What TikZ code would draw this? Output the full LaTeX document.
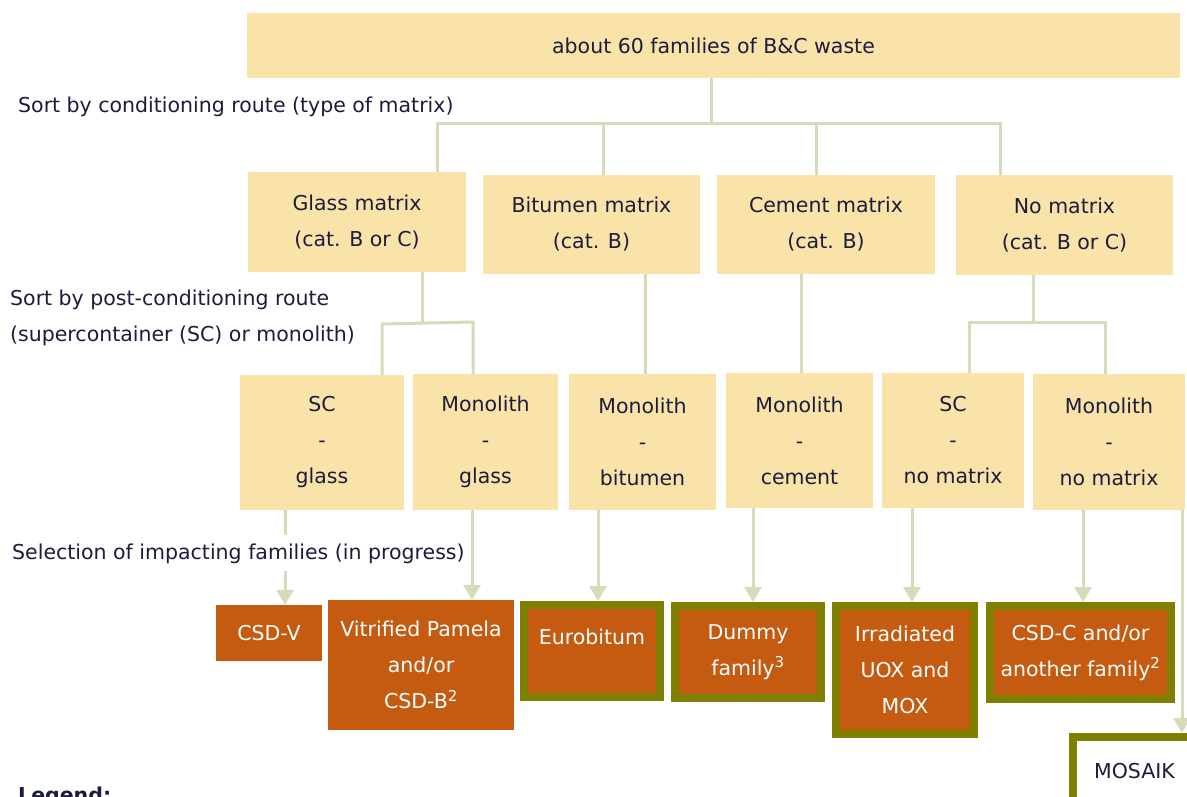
\documentclass[tikz,border=0pt]{standalone}
\usepackage{fontspec}
\setmainfont{DejaVu Sans}
\usetikzlibrary{arrows.meta}
\definecolor{boxyel}{RGB}{250,227,168}
\definecolor{orng}{RGB}{197,90,17}
\definecolor{oliv}{RGB}{128,128,0}
\definecolor{lin}{RGB}{212,220,186}
\definecolor{txt}{RGB}{28,28,60}
\tikzset{
  base/.style={inner sep=0pt, align=center, font=\fontsize{20.5}{36}\selectfont},
  ybox/.style={base, fill=boxyel, text=txt},
  obox/.style={base, fill=orng, text=white},
  fbox/.style={base, fill=orng, text=white, draw=oliv, line width=8pt},
  wbox/.style={base, fill=white, text=txt, draw=oliv, line width=8pt},
  conn/.style={draw=lin, line width=3pt},
  arr/.style={draw=lin, line width=3pt, -{Triangle[width=17pt,length=15pt]}, fill=lin},
  lab/.style={inner sep=0pt, text=txt, font=\fontsize{20.5}{36}\selectfont, anchor=base west},
}
\newcommand{\sups}[1]{\textsuperscript{\fontsize{15}{15}\selectfont #1}}
\begin{document}
\begin{tikzpicture}[x=1pt,y=-1pt]
\useasboundingbox (0,0) rectangle (1187,796);
\clip (0,0) rectangle (1187,796);
% level 1
\node[ybox, minimum width=933pt, minimum height=65pt] (top) at (713.5,45.5) {about 60 families of B\&C waste};
% level 2
\node[ybox, minimum width=218pt, minimum height=100pt] (glass) at (357,222) {Glass matrix\\(cat. B or C)};
\node[ybox, minimum width=217pt, minimum height=99pt] (bit) at (591.5,224.5) {Bitumen matrix\\(cat. B)};
\node[ybox, minimum width=218pt, minimum height=99pt] (cem) at (826,224.5) {Cement matrix\\(cat. B)};
\node[ybox, minimum width=217pt, minimum height=100pt] (nom) at (1064.5,225) {No matrix\\(cat. B or C)};
% level 3
\node[ybox, minimum width=164pt, minimum height=135pt] (scg) at (322,442.5) {SC\\-\\glass};
\node[ybox, minimum width=145pt, minimum height=136pt] (mg) at (485.5,442) {Monolith\\-\\glass};
\node[ybox, minimum width=147pt, minimum height=136pt] (mb) at (642.5,442) {Monolith\\-\\bitumen};
\node[ybox, minimum width=147pt, minimum height=135pt] (mc) at (799.5,440.5) {Monolith\\-\\cement};
\node[ybox, minimum width=142pt, minimum height=135pt] (scn) at (953,440.5) {SC\\-\\no matrix};
\node[ybox, minimum width=152pt, minimum height=136pt] (mn) at (1109,442) {Monolith\\-\\no matrix};
% level 4
\node[obox, minimum width=106pt, minimum height=56pt] (csdv) at (269,633) {CSD-V};
\node[obox, minimum width=186pt, minimum height=130pt] (vp) at (421,665) {Vitrified Pamela\\and/or\\CSD-B\sups{2}};
\node[fbox, minimum width=136pt, minimum height=92pt] (eu) at (592,651) {Eurobitum\\[-8pt]\mbox{}};
\node[fbox, minimum width=146pt, minimum height=92pt] (dum) at (748,652) {Dummy\\family\sups{3}};
\node[fbox, minimum width=138pt, minimum height=128pt] (irr) at (905,670) {Irradiated\\UOX and\\MOX};
\node[fbox, minimum width=181pt, minimum height=93pt] (csdc) at (1080.5,652.5) {CSD-C and/or\\another family\sups{2}};
\node[wbox, minimum width=123pt, minimum height=69pt] (mos) at (1134.5,771.5) {MOSAIK};
% level 1 -> 2
\coordinate (j0) at (711,123);
\coordinate (jg) at (437,123);
\coordinate (jb) at (603,123);
\coordinate (jc) at (816,123);
\coordinate (jn) at (1000,123);
\draw[conn] (j0 |- top.south) -- (j0);
\draw[conn, line cap=rect] (jg) -- (jn);
\draw[conn] (jg) -- (jg |- glass.north);
\draw[conn] (jb) -- (jb |- bit.north);
\draw[conn] (jc) -- (jc |- cem.north);
\draw[conn] (jn) -- (jn |- nom.north);
% level 2 -> 3
\coordinate (g0) at (422,323);
\coordinate (gl) at (382,324);
\coordinate (gr) at (473,322);
\draw[conn] (g0 |- glass.south) -- (g0);
\draw[conn, line join=miter] (gl |- scg.north) -- (gl) -- (gr) -- (gr |- mg.north);
\coordinate (bx) at (645,0);
\draw[conn] (bx |- bit.south) -- (bx |- mb.north);
\coordinate (cx) at (801,0);
\draw[conn] (cx |- cem.south) -- (cx |- mc.north);
\coordinate (n0) at (1033,322);
\coordinate (nl) at (969,322);
\coordinate (nr) at (1105,322);
\draw[conn] (n0 |- nom.south) -- (n0);
\draw[conn, line join=miter] (nl |- scn.north) -- (nl) -- (nr) -- (nr |- mn.north);
% level 3 -> 4
\coordinate (a1) at (285,0);
\coordinate (a2) at (472,0);
\coordinate (a3) at (598,0);
\coordinate (a4) at (753,0);
\coordinate (a5) at (912,0);
\coordinate (a6) at (1083,0);
\coordinate (a7) at (1182,0);
\draw[arr] (a1 |- scg.south) -- (a1 |- csdv.north);
\draw[arr] (a2 |- mg.south) -- (a2 |- vp.north);
\draw[arr] (a3 |- mb.south) -- (a3 |- eu.north);
\draw[arr] (a4 |- mc.south) -- (a4 |- dum.north);
\draw[arr] (a5 |- scn.south) -- (a5 |- irr.north);
\draw[arr] (a6 |- mn.south) -- (a6 |- csdc.north);
\draw[arr] (a7 |- mn.south) -- (a7 |- mos.north);
% labels
\node[lab] (l1) at (18,112) {Sort by conditioning route (type of matrix)};
\node[lab] (l2) at (10,305) {Sort by post-conditioning route};
\node[lab] (l3) at (10,341) {(supercontainer (SC) or monolith)};
\node[lab, fill=white, inner ysep=8pt, inner xsep=2pt] (l4) at (10,559) {Selection of impacting families (in progress)};
\node[lab, font=\fontsize{20.5}{36}\selectfont\bfseries] (leg) at (18,802) {Legend:};
\end{tikzpicture}
\end{document}
